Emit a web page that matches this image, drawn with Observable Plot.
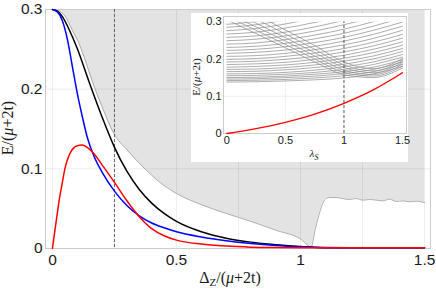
<!DOCTYPE html>
<html><head><meta charset="utf-8">
<script src="https://cdn.jsdelivr.net/npm/d3@7"></script>
<script src="https://cdn.jsdelivr.net/npm/@observablehq/plot@0.6"></script>
<style>
html,body{margin:0;padding:0;background:#fff;}
#wrap{position:relative;width:436px;height:289px;overflow:hidden;}
#main{position:absolute;left:0;top:0;}
#inset{position:absolute;left:191px;top:13px;background:#fff;}
#inset svg{overflow:visible;}
</style></head><body>
<div id="wrap"><div id="main"></div><div id="inset"></div></div>
<script>
// ---------- Main chart data ----------
const xTicks = [0, 0.5, 1, 1.5];
const xTickLabels = ["0", "0.5", "1", "1.5"];
const yTicks = [0, 0.1, 0.2, 0.3];
const yTickLabels = ["0", "0.1", "0.2", "0.3"];
const gridX = [0, 0.25, 0.5, 0.75, 1, 1.25, 1.5];
const gridY = [0.1, 0.2];
const yTop = 0.3;
const dashedDelta = 0.25;

const boundaryX = [0,0.02,0.05,0.08,0.105,0.13,0.172,0.2,0.248,0.3,0.35,0.4,0.45,0.5,0.6,0.7,0.8,0.9,1.0,1.043,1.06,1.08,1.096,1.116,1.143,1.17,1.197,1.224,1.251,1.278,1.305,1.332,1.359,1.386,1.413,1.44,1.467,1.5];
const boundaryY = [0.3,0.299,0.292,0.274,0.259,0.238,0.2,0.178,0.144,0.124,0.107,0.092,0.079,0.069,0.055,0.044,0.034,0.023,0.012,0.002,0.025,0.048,0.0606,0.064,0.064,0.0627,0.0615,0.0627,0.0607,0.0615,0.0607,0.0598,0.0619,0.059,0.0598,0.0586,0.0594,0.0577];

const blackX = [0,0.02,0.04,0.07,0.1,0.15,0.2,0.25,0.3,0.35,0.4,0.45,0.5,0.6,0.7,0.8,0.9,1.0,1.05,1.1,1.2,1.3,1.4,1.5];
const blackY = [0.3,0.298,0.291,0.273,0.251,0.207,0.165,0.127,0.097,0.074,0.057,0.044,0.034,0.021,0.013,0.008,0.0048,0.0025,0.0015,0.001,0.001,0.001,0.001,0.001];

const blueX = [0,0.02,0.04,0.06,0.08,0.1,0.12,0.14,0.17,0.2,0.25,0.3,0.35,0.4,0.45,0.5,0.6,0.7,0.8,0.9,1.0,1.1,1.2,1.3,1.4,1.5];
const blueY = [0.3,0.297,0.286,0.263,0.229,0.195,0.166,0.140,0.114,0.096,0.072,0.054,0.041,0.032,0.026,0.021,0.0145,0.0098,0.0063,0.0038,0.0022,0.0012,0.001,0.001,0.001,0.001];

const redX = [0,0.01,0.02,0.03,0.04,0.05,0.06,0.07,0.085,0.1,0.12,0.14,0.17,0.2,0.25,0.3,0.35,0.4,0.45,0.5,0.6,0.7,0.8,0.9,1.0,1.1,1.2,1.3,1.4,1.5];
const redY = [0,0.023,0.045,0.066,0.083,0.100,0.111,0.119,0.126,0.129,0.130,0.127,0.118,0.105,0.083,0.060,0.040,0.025,0.016,0.0105,0.0055,0.003,0.0017,0.0012,0.001,0.001,0.001,0.001,0.001,0.001];

// ---------- Inset data ----------
const lambdaGrid = [0, 0.25, 0.5, 0.75, 1, 1.25, 1.5];
const lambdaTicks = [0, 0.5, 1, 1.5];
const lambdaTickLabels = ["0", "0.5", "1", "1.5"];
const insetYTicks = [0, 0.1, 0.2, 0.3];
const insetYTickLabels = ["0", "0.1", "0.2", "0.3"];
const insetGridX = [0.5, 1];
const insetGridY = [0.1, 0.2];
const insetTop = 0.3;
const dashedLambda = 1;
const grayLevels = [
  [0.138,0.139,0.141,0.144,0.149,0.160,0.180],
  [0.142,0.143,0.145,0.149,0.155,0.166,0.186],
  [0.146,0.147,0.150,0.154,0.161,0.172,0.192],
  [0.150,0.151,0.154,0.159,0.166,0.178,0.198],
  [0.155,0.156,0.159,0.164,0.172,0.185,0.205],
  [0.160,0.161,0.164,0.170,0.179,0.192,0.212],
  [0.166,0.167,0.171,0.177,0.186,0.200,0.220],
  [0.172,0.173,0.177,0.184,0.194,0.208,0.228],
  [0.178,0.180,0.184,0.191,0.202,0.217,0.237],
  [0.185,0.187,0.191,0.199,0.210,0.226,0.246],
  [0.192,0.194,0.199,0.207,0.219,0.235,0.256],
  [0.199,0.201,0.207,0.216,0.228,0.245,0.266],
  [0.207,0.209,0.215,0.225,0.238,0.255,0.277],
  [0.215,0.218,0.224,0.234,0.248,0.266,0.288],
  [0.223,0.226,0.233,0.244,0.258,0.277,0.299],
  [0.231,0.234,0.242,0.254,0.269,0.288,0.311],
  [0.240,0.243,0.252,0.264,0.280,0.300,0.323],
  [0.249,0.253,0.262,0.275,0.292,0.312,0.336],
  [0.258,0.262,0.272,0.286,0.304,0.325,0.349],
  [0.267,0.272,0.283,0.298,0.316,0.338,0.362],
  [0.276,0.282,0.294,0.310,0.329,0.351,0.375],
  [0.285,0.292,0.305,0.322,0.342,0.364,0.388],
  [0.293,0.301,0.316,0.334,0.355,0.378,0.402],
  [0.305,0.268,0.230,0.192,0.158,0.150,0.176],
  [0.314,0.277,0.239,0.200,0.164,0.154,0.181],
  [0.323,0.286,0.248,0.208,0.170,0.158,0.186],
  [0.334,0.296,0.257,0.217,0.177,0.163,0.191],
  [0.346,0.307,0.267,0.226,0.184,0.168,0.196],
  [0.359,0.319,0.278,0.236,0.192,0.174,0.201]
];
const redLambda = [0, 0.25, 0.5, 0.75, 1, 1.25, 1.5];
const redInset = [0, 0.013, 0.030, 0.052, 0.081, 0.117, 0.163];

// ---------- Build tables ----------
const pairs = (xs, ys) => xs.map((x, i) => ({x, y: ys[i]}));
const boundary = pairs(boundaryX, boundaryY);
const black = pairs(blackX, blackY);
const blue = pairs(blueX, blueY);
const red = pairs(redX, redY);
const levels = grayLevels.flatMap((row, k) => row.map((e, i) => ({lambda: lambdaGrid[i], e, level: k})));
const redI = pairs(redLambda, redInset);

const sans = "'Liberation Sans', Arial, Helvetica, sans-serif";
const serif = "'Liberation Serif', 'DejaVu Serif', serif";

const main = Plot.plot({
  width: 436, height: 289,
  marginLeft: 45, marginRight: 6, marginTop: 9, marginBottom: 41,
  style: {fontFamily: sans, fontSize: "15.5px", color: "#1a1a1a", background: "transparent"},
  x: {domain: [-0.028, 1.524], ticks: xTicks, tickFormat: d => xTickLabels[xTicks.indexOf(d)], tickSize: 0, tickPadding: 5, label: null},
  y: {domain: [0, 0.3], ticks: yTicks, tickFormat: d => yTickLabels[yTicks.indexOf(d)], tickSize: 0, tickPadding: 3, label: null},
  marks: [
    Plot.areaY(boundary, {x: "x", y1: "y", y2: () => yTop, fill: "#e3e3e3", curve: "monotone-x"}),
    Plot.ruleX(gridX, {stroke: "#000", strokeOpacity: 0.07}),
    Plot.ruleY(gridY, {stroke: "#000", strokeOpacity: 0.07}),
    Plot.frame({stroke: "#cccccc"}),
    Plot.line(boundary, {x: "x", y: "y", stroke: "#9a9a9a", strokeWidth: 0.8, curve: "monotone-x"}),
    Plot.ruleX([dashedDelta], {stroke: "#444", strokeWidth: 0.8, strokeDasharray: "3,2"}),
    Plot.line(black, {x: "x", y: "y", stroke: "#000", strokeWidth: 1.5, curve: "monotone-x"}),
    Plot.line(blue, {x: "x", y: "y", stroke: "#0000ff", strokeWidth: 1.5, curve: "monotone-x"}),
    Plot.line(red, {x: "x", y: "y", stroke: "#ff0000", strokeWidth: 1.5, curve: "monotone-x"})
  ]
});
document.getElementById("main").appendChild(main);

const ms = d3.select(main);
const xl = ms.append("text").attr("x", 230).attr("y", 283).attr("text-anchor", "middle")
  .style("font-family", serif).style("font-size", "16px").attr("fill", "#1a1a1a");
xl.append("tspan").text("Δ");
xl.append("tspan").attr("dy", 3).style("font-size", "11px").text("Z");
xl.append("tspan").attr("dy", -3).text("/(");
xl.append("tspan").style("font-style", "italic").text("μ");
xl.append("tspan").text("+2t)");
const yl = ms.append("text").attr("transform", "translate(13,128) rotate(-90)").attr("text-anchor", "middle")
  .style("font-family", serif).style("font-size", "16px").attr("fill", "#1a1a1a");
yl.append("tspan").text("E/(");
yl.append("tspan").style("font-style", "italic").text("μ");
yl.append("tspan").text("+2t)");

const inset = Plot.plot({
  width: 217, height: 149,
  marginLeft: 32, marginRight: 2, marginTop: 3, marginBottom: 29,
  style: {fontFamily: sans, fontSize: "11px", color: "#1a1a1a", background: "#fff", overflow: "visible"},
  x: {domain: [-0.029, 1.534], ticks: lambdaTicks, tickFormat: d => lambdaTickLabels[lambdaTicks.indexOf(d)], tickSize: 0, tickPadding: 3, label: null},
  y: {domain: [0, 0.314], ticks: insetYTicks, tickFormat: d => insetYTickLabels[insetYTicks.indexOf(d)], tickSize: 0, tickPadding: 2, label: null},
  marks: [
    Plot.ruleX(insetGridX, {stroke: "#000", strokeOpacity: 0.06}),
    Plot.ruleY(insetGridY, {stroke: "#000", strokeOpacity: 0.06}),
    Plot.frame({stroke: "#cccccc"}),
    Plot.line(levels, {x: "lambda", y: "e", z: "level", stroke: "#8a8a8a", strokeWidth: 0.7, curve: "monotone-x"}),
    Plot.ruleX([dashedLambda], {y1: 0, y2: () => insetTop, stroke: "#333", strokeWidth: 0.8, strokeDasharray: "3,2"}),
    Plot.line(redI, {x: "x", y: "y", stroke: "#ff0000", strokeWidth: 1.4, curve: "monotone-x"})
  ]
});
document.getElementById("inset").appendChild(inset);

const is = d3.select(inset);
const sx = inset.scale("x"), sy = inset.scale("y");
const defs = is.append("defs");
defs.append("clipPath").attr("id", "insetClip").append("rect")
  .attr("x", sx.apply(sx.domain[0])).attr("y", sy.apply(insetTop))
  .attr("width", sx.apply(sx.domain[1]) - sx.apply(sx.domain[0]))
  .attr("height", sy.apply(0) - sy.apply(insetTop));
is.selectAll("g[aria-label='line']").filter((d, i) => i === 0).attr("clip-path", "url(#insetClip)");

const ixl = is.append("text").attr("x", 123).attr("y", 144).attr("text-anchor", "middle")
  .style("font-family", serif).style("font-size", "11px").attr("fill", "#1a1a1a");
ixl.append("tspan").style("font-style", "italic").text("λ");
ixl.append("tspan").attr("dy", 2.5).style("font-size", "8px").style("font-style", "italic").text("S");
const iyl = is.append("text").attr("transform", "translate(9,64) rotate(-90)").attr("text-anchor", "middle")
  .style("font-family", serif).style("font-size", "11px").attr("fill", "#1a1a1a");
iyl.append("tspan").text("E/(");
iyl.append("tspan").style("font-style", "italic").text("μ");
iyl.append("tspan").text("+2t)");
</script>
</body></html>
